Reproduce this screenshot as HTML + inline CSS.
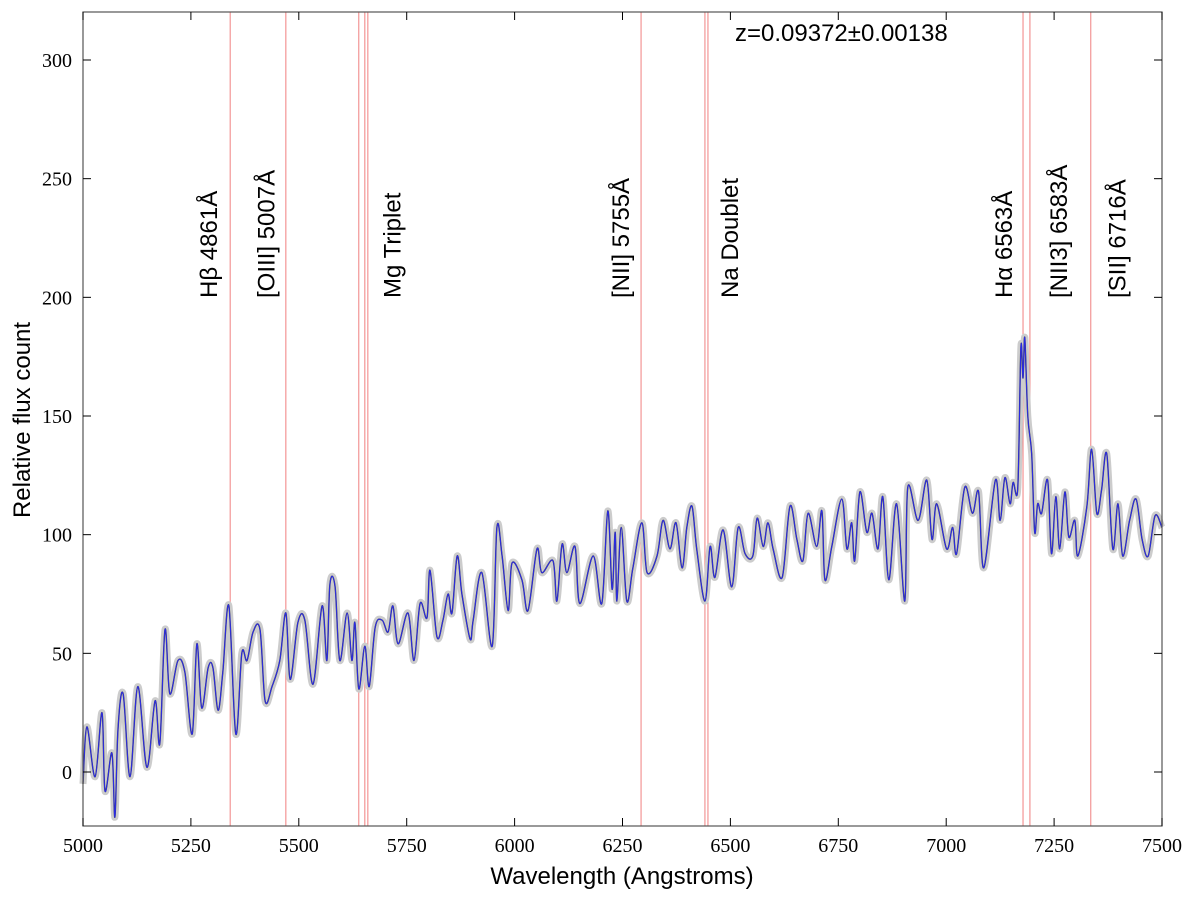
<!DOCTYPE html>
<html><head><meta charset="utf-8"><style>
body{margin:0;background:#fff}
svg text{font-family:"Liberation Sans",sans-serif}
.tick{font-family:"Liberation Serif",serif;font-size:20px}
</style></head><body>
<svg id="chart" width="1200" height="900" xmlns="http://www.w3.org/2000/svg">
<rect x="0" y="0" width="1200" height="900" fill="#fff"/>
<g id="lines"></g>
<g id="series"></g>
<rect x="83" y="12" width="1079" height="814" fill="none" stroke="#555" stroke-width="1.2"/>
<g id="axes"></g>
<g id="labels"></g>
<text x="735" y="41" font-size="24">z=0.09372±0.00138</text>
<text x="622" y="884" font-size="24" text-anchor="middle">Wavelength (Angstroms)</text>
<text transform="translate(30,420) rotate(-90)" font-size="24" text-anchor="middle">Relative flux count</text>
</svg>
<script>
const wavelengths=[5000,5009,5028,5044,5051,5067,5074,5081,5093,5109,5127,5148,5167,5178,5190,5201,5220,5236,5253,5264,5275,5290,5301,5313,5324,5338,5354,5368,5380,5394,5410,5422,5438,5456,5470,5480,5498,5514,5533,5554,5565,5572,5584,5595,5612,5623,5630,5639,5653,5663,5677,5693,5707,5718,5730,5753,5767,5781,5797,5804,5820,5834,5846,5855,5867,5878,5897,5904,5924,5948,5959,5971,5985,5994,6017,6031,6052,6063,6089,6098,6110,6121,6140,6151,6182,6202,6216,6226,6233,6237,6247,6260,6274,6295,6307,6330,6344,6360,6374,6388,6399,6411,6422,6441,6453,6464,6483,6503,6518,6534,6552,6562,6576,6587,6599,6620,6638,6654,6668,6680,6700,6712,6719,6735,6758,6770,6781,6788,6800,6816,6828,6842,6853,6867,6885,6904,6911,6935,6955,6967,6978,7001,7015,7024,7043,7061,7075,7087,7114,7125,7136,7148,7155,7166,7173,7178,7182,7189,7198,7205,7212,7221,7235,7244,7254,7263,7275,7284,7298,7305,7326,7337,7349,7360,7372,7386,7398,7409,7425,7440,7454,7468,7484,7500];
const flux=[-5,19,-2,25,-8,8,-19,18,33,-2,36,2,30,12,60,33,47,42,16,54,27,44,44,26,42,70,16,50,47,59,60,30,36,47,67,39,63,64,37,70,47,79,78,47,67,47,63,35,53,36,61,64,59,70,54,67,47,71,65,85,57,64,75,67,91,75,56,64,84,53,103,91,68,88,81,68,94,84,89,72,96,84,95,71,91,71,110,77,101,72,103,72,86,105,84,91,106,94,105,86,103,112,94,72,95,82,102,78,103,92,91,107,95,105,94,82,112,98,89,109,95,110,81,95,115,94,105,89,118,101,109,94,116,81,113,72,120,106,123,98,113,94,103,92,120,109,118,86,123,106,124,113,122,120,179,166,183,150,134,101,113,109,123,92,116,94,118,99,106,91,112,136,109,119,134,94,113,91,106,115,98,91,108,103];
const lineWaves=[5341,5470,5639,5653,5660,6293,6441,6448,7178,7194,7335];
const xTicks=[5000,5250,5500,5750,6000,6250,6500,6750,7000,7250,7500];
const yTicks=[0,50,100,150,200,250,300];
const labelText=["Hβ 4861Å","[OIII] 5007Å","Mg Triplet","[NII] 5755Å","Na Doublet","Hα 6563Å","[NII3] 6583Å","[SII] 6716Å"];
const labelWaves=[5290,5423,5715,6244,6497,7132,7259,7395];
const NS="http://www.w3.org/2000/svg";
const X=w=>83+(w-5000)*1079/2500;
const Y=v=>772-v*712/300;
function mk(t,a,p){const e=document.createElementNS(NS,t);for(const k in a)e.setAttribute(k,a[k]);p.appendChild(e);return e;}
const L=document.getElementById('lines');
lineWaves.forEach(w=>{const e=mk('line',{x1:X(w),x2:X(w),y1:12,y2:826,stroke:'#f08080','stroke-width':1},L);

});
const S=document.getElementById('series');
const P=wavelengths.map((w,i)=>[X(w),Y(flux[i])]);
let d='M'+P[0][0].toFixed(1)+','+P[0][1].toFixed(1);
for(let i=0;i<P.length-1;i++){const p0=P[Math.max(0,i-1)],p1=P[i],p2=P[i+1],p3=P[Math.min(P.length-1,i+2)];
const c1=[p1[0]+(p2[0]-p0[0])/6,p1[1]+(p2[1]-p0[1])/6],c2=[p2[0]-(p3[0]-p1[0])/6,p2[1]-(p3[1]-p1[1])/6];
d+='C'+c1.map(v=>v.toFixed(1)).join(',')+' '+c2.map(v=>v.toFixed(1)).join(',')+' '+p2.map(v=>v.toFixed(1)).join(',');}
const g=mk('path',{d:d,fill:'none',stroke:'#cccccc','stroke-width':7,'stroke-linejoin':'round'},S);


const k=mk('path',{d:d,fill:'none',stroke:'#444','stroke-width':1.4},S);


const b=mk('path',{d:d,fill:'none',stroke:'#2a2ae8','stroke-width':1},S);


const A=document.getElementById('axes');
xTicks.forEach(t=>{const x=X(t);
mk('line',{x1:x,x2:x,y1:826,y2:818,stroke:'#000'},A);mk('line',{x1:x,x2:x,y1:12,y2:20,stroke:'#000'},A);
const e=mk('text',{x:x,y:852,'text-anchor':'middle',class:'tick'},A);e.textContent=t;

});
yTicks.forEach(t=>{const y=Y(t);
mk('line',{x1:83,x2:91,y1:y,y2:y,stroke:'#000'},A);mk('line',{x1:1162,x2:1154,y1:y,y2:y,stroke:'#000'},A);
const e=mk('text',{x:72,y:y+7,'text-anchor':'end',class:'tick'},A);e.textContent=t;

});
const T=document.getElementById('labels');
labelText.forEach((s,i)=>{const x=X(labelWaves[i])+9;
const e=mk('text',{transform:`translate(${x},298) rotate(-90)`,'font-size':24},T);e.textContent=s;

});
</script>
</body></html>
